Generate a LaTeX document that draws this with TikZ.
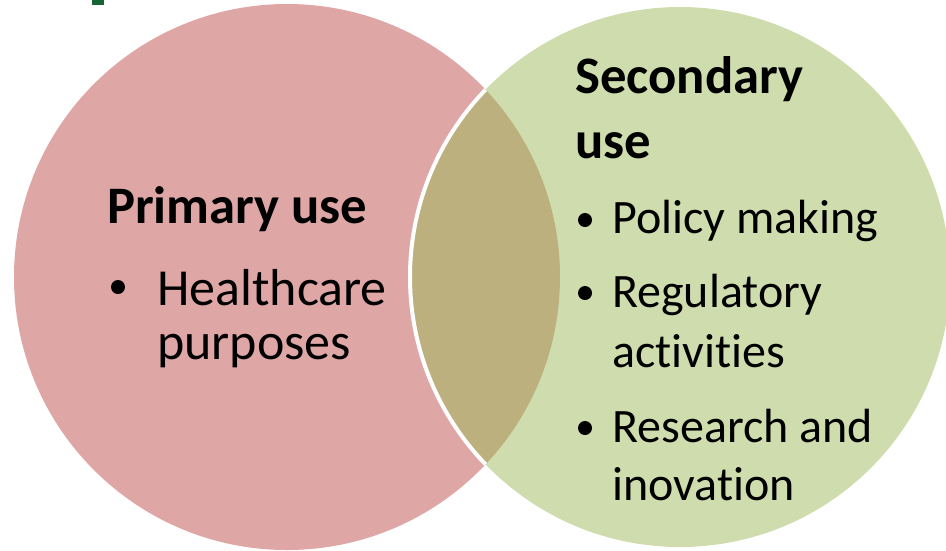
\documentclass[tikz,border=0pt]{standalone}
\usepackage{fontspec}
\setmainfont[Ligatures=NoCommon]{Carlito}
\definecolor{primarypink}{RGB}{223,166,166}
\definecolor{secondarygreen}{RGB}{207,221,174}
\definecolor{overlaptan}{RGB}{188,176,126}
\definecolor{titlegreen}{RGB}{22,102,52}
\tikzset{
  head/.style={font=\fontsize{52.7pt}{60pt}\selectfont\bfseries, inner sep=0pt, anchor=base west},
  leftitem/.style={font=\fontsize{52pt}{60pt}\selectfont, inner sep=0pt, anchor=base west},
  rightitem/.style={font=\fontsize{48pt}{58pt}\selectfont, inner sep=0pt, anchor=base west},
}

\begin{document}
\begin{tikzpicture}[x=1pt,y=-1pt]
  \useasboundingbox (0,0) rectangle (946,550);

  \coordinate (P) at (287,277);
  \coordinate (S) at (680,277);

  \fill [primarypink] (P) circle (273);
  \fill [secondarygreen] (S) circle (270);
  \begin{scope}
    \clip (P) circle (273);
    \fill [overlaptan] (S) circle (270);
    \draw [white, line width=4pt] (S) circle (270);
  \end{scope}

  \fill [titlegreen] (92,0) rectangle (104,4.5);

  \node [head] (primary) at (107,223) {Primary use};
  \fill (118,287) circle (7);
  \node [leftitem] (health) at (157,305) {Healthcare};
  \node [leftitem] (purposes) at (157,359) {purposes};

  \node [head] (secondary) at (575,93) {Secondary};
  \node [head] (use) at (575,158) {use};
  \fill (585,220) circle (7);
  \node [rightitem] (policy) at (612,233) {Policy making};
  \fill (585,293) circle (7);
  \node [rightitem] (regulatory) at (612,307) {Regulatory};
  \node [rightitem] (activities) at (612,367) {activities};
  \fill (585,428) circle (7);
  \node [rightitem] (research) at (612,442) {Research and};
  \node [rightitem] (inovation) at (612,500) {inovation};
\end{tikzpicture}
\end{document}
